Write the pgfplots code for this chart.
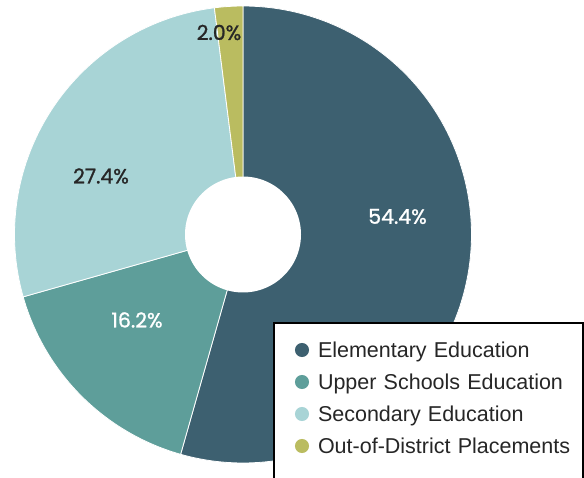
\documentclass[border=0pt]{standalone}
\usepackage{pgfplots}
\pgfplotsset{compat=1.18}
\usepackage{fontspec}
\setmainfont{Liberation Sans}
\newfontfamily\pctfont[FakeBold=1.2]{Poppins}
\definecolor{cElem}{RGB}{61,96,112}
\definecolor{cUpper}{RGB}{94,158,154}
\definecolor{cSec}{RGB}{168,212,214}
\definecolor{cOut}{RGB}{186,188,96}
% shares (percent)
\def\vElem{54.4}
\def\vUpper{16.2}
\def\vSec{27.4}
\def\vOut{2.0}
\def\cx{243}\def\cy{242.5}\def\R{228.5}\def\rr{58}
\pgfmathsetmacro{\aA}{90}
\pgfmathsetmacro{\aB}{\aA-3.6*\vElem}
\pgfmathsetmacro{\aC}{\aB-3.6*\vUpper}
\pgfmathsetmacro{\aD}{\aC-3.6*\vSec}
\pgfmathsetmacro{\aE}{\aD-3.6*\vOut}
\begin{document}
\begin{tikzpicture}
\useasboundingbox (0,0) rectangle (584pt,477pt);
\clip (0,0) rectangle (584pt,477pt);
\begin{axis}[x=1pt,y=1pt,xmin=0,xmax=584,ymin=0,ymax=477,
  hide axis, clip=false, at={(0,0)}, anchor=south west,
  variable=\t, samples=150,
  legend cell align=left,
  legend style={at={(axis cs:273,155)}, anchor=north west, draw=black, line width=2pt,
    inner xsep=14pt, inner ysep=11pt, column sep=9pt, row sep=0pt,
    nodes={inner xsep=0pt, inner ysep=0pt, text height=23.5pt, text depth=8.5pt,
      font=\fontsize{21.5}{25}\selectfont, text=black!85, text width=251pt}},
]
\addplot[fill=cElem, draw=white, line width=0.8pt, domain=\aB:\aA, forget plot]
  ({\cx+\R*cos(\t)},{\cy+\R*sin(\t)}) -- (axis cs:\cx,\cy) -- cycle;
\addplot[fill=cUpper, draw=white, line width=0.8pt, domain=\aC:\aB, forget plot]
  ({\cx+\R*cos(\t)},{\cy+\R*sin(\t)}) -- (axis cs:\cx,\cy) -- cycle;
\addplot[fill=cSec, draw=white, line width=0.8pt, domain=\aD:\aC, forget plot]
  ({\cx+\R*cos(\t)},{\cy+\R*sin(\t)}) -- (axis cs:\cx,\cy) -- cycle;
\addplot[fill=cOut, draw=white, line width=0.8pt, domain=\aE:\aD, samples=20, forget plot]
  ({\cx+\R*cos(\t)},{\cy+\R*sin(\t)}) -- (axis cs:\cx,\cy) -- cycle;
\addplot[fill=white, draw=none, domain=0:360, samples=100, forget plot]
  ({\cx+\rr*cos(\t)},{\cy+\rr*sin(\t)}) -- cycle;

\node[font=\pctfont\fontsize{20.5}{22}\selectfont, text=white] at (axis cs:397.5,260.5) {54.4\%};
\node[font=\pctfont\fontsize{20.5}{22}\selectfont, text=white] at (axis cs:137,157) {16.2\%};
\node[font=\pctfont\fontsize{20.5}{22}\selectfont, text=black!85] at (axis cs:101,301) {27.4\%};
\node[font=\pctfont\fontsize{20.5}{22}\selectfont, text=black!85] at (axis cs:219,444.5) {2.0\%};

\addlegendimage{legend image code/.code={\path (0pt,0pt) (19pt,0pt); \fill[cElem] (13pt,0pt) circle (6pt);}}
\addlegendentry{\mbox{Elementary Education}}
\addlegendimage{legend image code/.code={\path (0pt,0pt) (19pt,0pt); \fill[cUpper] (13pt,0pt) circle (6pt);}}
\addlegendentry{\mbox{Upper Schools Education}}
\addlegendimage{legend image code/.code={\path (0pt,0pt) (19pt,0pt); \fill[cSec] (13pt,0pt) circle (6pt);}}
\addlegendentry{\mbox{Secondary Education}}
\addlegendimage{legend image code/.code={\path (0pt,0pt) (19pt,0pt); \fill[cOut] (13pt,0pt) circle (6pt);}}
\addlegendentry{\mbox{Out-of-District Placements}}
\addlegendimage{empty legend}
\addlegendentry{}
\end{axis}
\end{tikzpicture}
\end{document}
